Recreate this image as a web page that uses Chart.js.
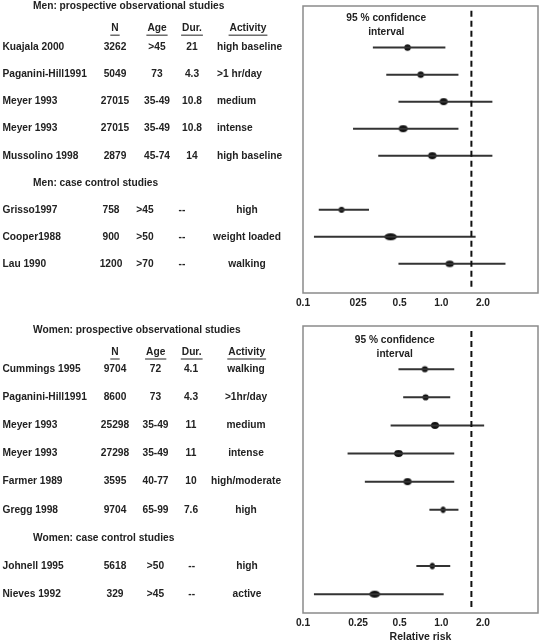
<!DOCTYPE html>
<html>
<head>
<meta charset="utf-8">
<script src="https://cdn.jsdelivr.net/npm/chart.js@4.4.0/dist/chart.umd.min.js"></script>
<style>
  html, body { margin: 0; padding: 0; background: #fff; }
  .panel { position: absolute; left: 0; width: 544px; }
</style>
</head>
<body>
<div class="panel" style="top:0;height:320px"><canvas id="menChart"></canvas></div>
<div class="panel" style="top:320px;height:321px"><canvas id="womenChart"></canvas></div>
<script>
// Axis
const tickValues = [0.1, 0.25, 0.5, 1, 2];
const menTickLabels = ['0.1', '025', '0.5', '1.0', '2.0'];
const womenTickLabels = ['0.1', '0.25', '0.5', '1.0', '2.0'];
const refLineValue = 1.65;

// Men
const menStudies = ['Kuajala 2000', 'Paganini-Hill1991', 'Meyer 1993', 'Meyer 1993', 'Mussolino 1998', 'Grisso1997', 'Cooper1988', 'Lau 1990'];
const menN = ['3262', '5049', '27015', '27015', '2879', '758', '900', '1200'];
const menAge = ['>45', '73', '35-49', '35-49', '45-74', '>45', '>50', '>70'];
const menDur = ['21', '4.3', '10.8', '10.8', '14', '--', '--', '--'];
const menActivity = ['high baseline', '>1 hr/day', 'medium', 'intense', 'high baseline', 'high', 'weight loaded', 'walking'];
const menRR = [0.57, 0.71, 1.04, 0.53, 0.86, 0.19, 0.43, 1.15];
const menLow = [0.32, 0.40, 0.49, 0.23, 0.35, 0.13, 0.12, 0.49];
const menHigh = [1.07, 1.33, 2.34, 1.33, 2.34, 0.30, 1.77, 2.91];

// Women
const womenStudies = ['Cummings 1995', 'Paganini-Hill1991', 'Meyer 1993', 'Meyer 1993', 'Farmer 1989', 'Gregg 1998', 'Johnell 1995', 'Nieves 1992'];
const womenN = ['9704', '8600', '25298', '27298', '3595', '9704', '5618', '329'];
const womenAge = ['72', '73', '35-49', '35-49', '40-77', '65-99', '>50', '>45'];
const womenDur = ['4.1', '4.3', '11', '11', '10', '7.6', '--', '--'];
const womenActivity = ['walking', '>1hr/day', 'medium', 'intense', 'high/moderate', 'high', 'high', 'active'];
const womenRR = [0.76, 0.77, 0.90, 0.49, 0.57, 1.03, 0.86, 0.33];
const womenLow = [0.49, 0.53, 0.43, 0.21, 0.28, 0.82, 0.66, 0.12];
const womenHigh = [1.24, 1.16, 2.04, 1.24, 1.24, 1.33, 1.16, 1.04];

// marker half sizes [rx, ry] (style only)
const menMarks = [[3.2, 3.2], [3.2, 3.2], [4, 3.4], [4.4, 3.4], [4.2, 3.4], [2.9, 2.9], [6.3, 3.5], [4.1, 3.2]];
const womenMarks = [[3.1, 3.1], [3.1, 3.1], [4, 3.4], [4.4, 3.4], [4, 3.4], [2.4, 3.2], [2.5, 3.2], [5.4, 3.5]];

const FONT = '"Liberation Sans", Arial, sans-serif';
const TEXT = '#222';

function ellipseMarker(rx, ry) {
  const c = document.createElement('canvas');
  c.width = Math.ceil(rx * 2 + 2);
  c.height = Math.ceil(ry * 2 + 2);
  const g = c.getContext('2d');
  g.fillStyle = '#111';
  g.beginPath();
  g.ellipse(c.width / 2, c.height / 2, rx, ry, 0, 0, Math.PI * 2);
  g.fill();
  return c;
}

const tablePlugin = {
  id: 'forestTable',
  afterDraw(chart, args, o) {
    const { ctx, chartArea, scales: { x, y } } = chart;
    ctx.save();
    // frame
    ctx.strokeStyle = '#8a8a8a';
    ctx.lineWidth = 1.5;
    ctx.strokeRect(chartArea.left, chartArea.top, chartArea.right - chartArea.left, chartArea.bottom - chartArea.top);

    ctx.fillStyle = TEXT;
    ctx.strokeStyle = TEXT;
    ctx.font = 'bold 10.2px ' + FONT;
    ctx.textBaseline = 'middle';

    const put = (txt, px, py, align) => {
      ctx.textAlign = align;
      ctx.fillText(txt, px, py);
    };

    // titles
    put(o.title, o.titleX, y.getPixelForValue(o.titleRow), 'left');
    put(o.subtitle, o.titleX, y.getPixelForValue(o.ccFrom), 'left');

    // header (underlined)
    const hy = y.getPixelForValue(o.headerRow);
    ctx.lineWidth = 1;
    [['N', o.head.n], ['Age', o.head.age], ['Dur.', o.head.dur], ['Activity', o.head.act]].forEach(([t, px]) => {
      put(t, px, hy, 'center');
      const w = ctx.measureText(t).width;
      ctx.beginPath();
      ctx.moveTo(px - w / 2 - 1, hy + 7);
      ctx.lineTo(px + w / 2 + 1, hy + 7);
      ctx.stroke();
    });

    // rows
    o.studies.forEach((name, i) => {
      const cc = i >= o.ccFrom;
      const cols = cc ? o.ccCols : o.cols;
      const py = y.getPixelForValue(cc ? i + 1 : i);
      put(name, o.nameX, py, 'left');
      put(o.n[i], cols.n, py, 'center');
      put(o.age[i], cols.age, py, 'center');
      put(o.dur[i], cols.dur, py, 'center');
      put(o.act[i], cols.act, py, cols.actAlign);
    });

    // confidence label
    const cx = x.getPixelForValue(o.ciLabelX);
    put('95 % confidence', cx, y.getPixelForValue(o.ciRows[0]), 'center');
    put('interval', cx, y.getPixelForValue(o.ciRows[1]), 'center');
    ctx.restore();
  }
};

function createForest(id, p) {
  const rows = p.studies.map((s, i) => (i >= p.ccFrom ? i + 1 : i));
  const ciData = [];
  rows.forEach((r, i) => {
    ciData.push({ x: p.low[i], y: r }, { x: p.high[i], y: r }, { x: p.high[i], y: null });
  });
  const markers = p.marks.map(([rx, ry]) => ellipseMarker(rx, ry));

  new Chart(document.getElementById(id), {
    type: 'line',
    data: {
      datasets: [
        {
          label: 'ref',
          data: [{ x: refLineValue, y: p.yMin + 0.18 }, { x: refLineValue, y: p.yMax - 0.1 }],
          borderColor: '#111',
          borderWidth: 2,
          borderDash: [6, 4],
          pointRadius: 0
        },
        {
          label: '95% CI',
          data: ciData,
          borderColor: '#333',
          borderWidth: 2,
          pointRadius: 0,
          spanGaps: false
        },
        {
          label: 'RR',
          data: rows.map((r, i) => ({ x: p.rr[i], y: r })),
          showLine: false,
          pointStyle: ctx => markers[ctx.dataIndex],
          pointRadius: 5
        }
      ]
    },
    options: {
      responsive: true,
      maintainAspectRatio: false,
      animation: false,
      layout: { padding: { left: 303, right: 2, top: 5, bottom: 0 } },
      plugins: {
        legend: { display: false },
        tooltip: { enabled: false },
        forestTable: p.table
      },
      scales: {
        x: {
          type: 'logarithmic',
          min: 0.1,
          max: 5,
          afterBuildTicks: scale => { scale.ticks = tickValues.map(v => ({ value: v })); },
          afterFit: scale => { scale.height = p.axisHeight; },
          grid: { display: false, drawTicks: false },
          border: { display: false },
          ticks: {
            autoSkip: false,
            maxRotation: 0,
            padding: 4,
            color: TEXT,
            font: { family: FONT, size: 10.2, weight: 'bold' },
            callback: (value, index) => p.tickLabels[index]
          },
          title: {
            display: !!p.axisTitle,
            text: p.axisTitle || '',
            color: TEXT,
            padding: { top: 0, bottom: -2 },
            font: { family: FONT, size: 10.5, weight: 'bold' }
          }
        },
        y: {
          type: 'linear',
          display: false,
          reverse: true,
          min: p.yMin,
          max: p.yMax
        }
      }
    },
    plugins: [tablePlugin]
  });
}

createForest('menChart', {
  studies: menStudies, rr: menRR, low: menLow, high: menHigh, marks: menMarks,
  ccFrom: 5, yMin: -1.54, yMax: 9.08, axisHeight: 27, tickLabels: menTickLabels,
  table: {
    studies: menStudies, n: menN, age: menAge, dur: menDur, act: menActivity, ccFrom: 5,
    title: 'Men: prospective observational studies', subtitle: 'Men: case control studies',
    titleX: 33, titleRow: -1.52, headerRow: -0.72, nameX: 2.5,
    head: { n: 115, age: 157, dur: 192, act: 248 },
    cols: { n: 115, age: 157, dur: 192, act: 217, actAlign: 'left' },
    ccCols: { n: 111, age: 145, dur: 182, act: 247, actAlign: 'center' },
    ciLabelX: 0.40, ciRows: [-1.1, -0.58]
  }
});

createForest('womenChart', {
  studies: womenStudies, rr: womenRR, low: womenLow, high: womenHigh, marks: womenMarks,
  ccFrom: 6, yMin: -1.535, yMax: 8.67, axisHeight: 28, tickLabels: womenTickLabels,
  axisTitle: 'Relative risk',
  table: {
    studies: womenStudies, n: womenN, age: womenAge, dur: womenDur, act: womenActivity, ccFrom: 6,
    title: 'Women: prospective observational studies', subtitle: 'Women: case control studies',
    titleX: 33, titleRow: -1.39, headerRow: -0.61, nameX: 2.5,
    head: { n: 115, age: 155.7, dur: 191.7, act: 246.7 },
    cols: { n: 115, age: 155.5, dur: 191, act: 246, actAlign: 'center' },
    ccCols: { n: 115, age: 155.5, dur: 191.7, act: 247, actAlign: 'center' },
    ciLabelX: 0.46, ciRows: [-1.03, -0.55]
  }
});
</script>
</body>
</html>
